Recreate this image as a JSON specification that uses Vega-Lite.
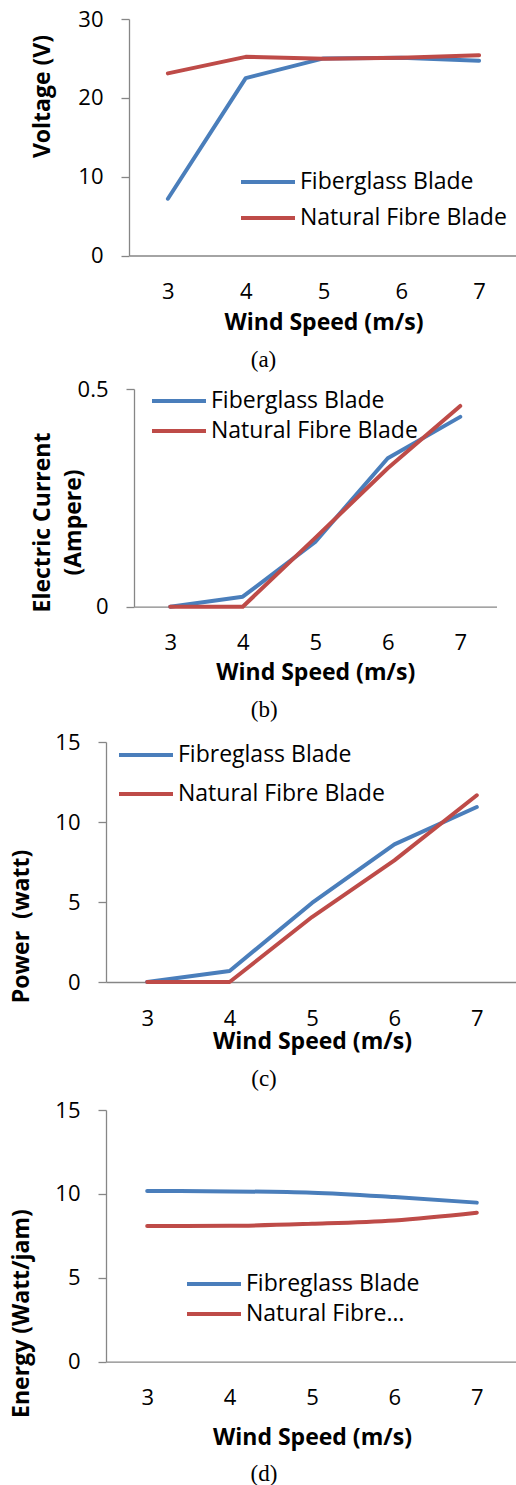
{
  "$schema": "https://vega.github.io/schema/vega-lite/v6.json",
  "padding": {"left": 10, "top": 8, "right": 0, "bottom": 0},
  "spacing": 0,
  "resolve": {"scale": {"color": "independent"}, "legend": {"color": "independent"}},
  "config": {
    "view": {"stroke": null, "fill": "transparent"},
    "font": "Open Sans",
    "axis": {"domainColor": "#868686", "tickColor": "#868686", "grid": false, "labelFont": "Open Sans", "labelFontSize": 22, "labelColor": "#000000", "titleFont": "Open Sans", "titleFontSize": 23, "titleFontWeight": "bold", "titleColor": "#000000", "domainWidth": 1.3, "tickWidth": 1.3},
    "axisX": {"ticks": false, "tickSize": 0, "labelAngle": 0, "labelBaseline": "alphabetic", "labelPadding": 43, "titleBaseline": "alphabetic"},
    "axisY": {"tickSize": 8, "labelPadding": 18, "titleAngle": -90, "titleBaseline": "alphabetic", "titleAlign": "center"},
    "legend": {"orient": "none", "padding": 0, "labelFont": "Open Sans", "labelFontSize": 23, "labelColor": "#000000", "symbolType": "M-2.7,0H2.7", "symbolSize": 400, "symbolStrokeWidth": 4, "labelOffset": 20, "labelLimit": 400},
    "title": {"font": "Liberation Serif", "fontSize": 23, "fontWeight": "normal", "orient": "bottom", "anchor": "middle", "frame": "group", "color": "#000000", "baseline": "alphabetic", "offset": 14},
    "line": {"strokeWidth": 4, "strokeCap": "round", "strokeJoin": "round"}
  },
  "vconcat": [
    {
      "spacing": 0,
      "bounds": "flush",
      "resolve": {"scale": {"color": "independent"}, "legend": {"color": "independent"}},
      "hconcat": [
        {"width": 24, "height": 358.5, "data": {"values": []}, "mark": "point"},
        {
          "width": 389, "height": 236.5,
          "title": {"text": "(a)", "dx": -60, "fontSize": 23},
          "data": {"values": [
            {"speed": 3, "blade": "Fiberglass Blade", "value": 7.2},
            {"speed": 4, "blade": "Fiberglass Blade", "value": 22.5},
            {"speed": 5, "blade": "Fiberglass Blade", "value": 25.0},
            {"speed": 6, "blade": "Fiberglass Blade", "value": 25.1},
            {"speed": 7, "blade": "Fiberglass Blade", "value": 24.7},
            {"speed": 3, "blade": "Natural Fibre Blade", "value": 23.1},
            {"speed": 4, "blade": "Natural Fibre Blade", "value": 25.2},
            {"speed": 5, "blade": "Natural Fibre Blade", "value": 24.95},
            {"speed": 6, "blade": "Natural Fibre Blade", "value": 25.1},
            {"speed": 7, "blade": "Natural Fibre Blade", "value": 25.4}
          ]},
          "mark": {"type": "line"},
          "encoding": {
            "x": {"field": "speed", "type": "ordinal", "axis": {"title": "Wind Speed (m/s)", "titleY": 74}},
            "y": {"field": "value", "type": "quantitative", "scale": {"domain": [0, 30], "nice": false}, "axis": {"title": "Voltage (V)", "values": [0, 10, 20, 30], "titleX": -80, "titleY": 77}},
            "color": {"field": "blade", "type": "nominal", "scale": {"domain": ["Fiberglass Blade", "Natural Fibre Blade"], "range": ["#4A7EBB", "#BE4B48"]},
              "legend": {"title": null, "legendX": 127, "legendY": 151, "rowPadding": 12, "encode": {"symbols": {"update": {"strokeCap": {"value": "round"}}}}}}
          }
        }
      ]
    },
    {
      "spacing": 0,
      "bounds": "flush",
      "resolve": {"scale": {"color": "independent"}, "legend": {"color": "independent"}},
      "hconcat": [
        {"width": 29, "height": 341.7, "data": {"values": []}, "mark": "point"},
        {
          "width": 362.5, "height": 217.7,
          "title": {"text": "(b)", "dx": -51, "fontSize": 23},
          "data": {"values": [
            {"speed": 3, "blade": "Fiberglass Blade", "value": 0},
            {"speed": 4, "blade": "Fiberglass Blade", "value": 0.023},
            {"speed": 5, "blade": "Fiberglass Blade", "value": 0.149},
            {"speed": 6, "blade": "Fiberglass Blade", "value": 0.341},
            {"speed": 7, "blade": "Fiberglass Blade", "value": 0.436},
            {"speed": 3, "blade": "Natural Fibre Blade", "value": 0},
            {"speed": 4, "blade": "Natural Fibre Blade", "value": 0},
            {"speed": 5, "blade": "Natural Fibre Blade", "value": 0.158},
            {"speed": 6, "blade": "Natural Fibre Blade", "value": 0.318},
            {"speed": 7, "blade": "Natural Fibre Blade", "value": 0.461}
          ]},
          "mark": {"type": "line"},
          "encoding": {
            "x": {"field": "speed", "type": "ordinal", "axis": {"title": "Wind Speed (m/s)", "titleY": 73}},
            "y": {"field": "value", "type": "quantitative", "scale": {"domain": [0, 0.5], "nice": false}, "axis": {"title": ["Electric Current", "(Ampere)"], "titleLineHeight": 31, "values": [0, 0.5], "format": "~g", "titleX": -85, "titleY": 133}},
            "color": {"field": "blade", "type": "nominal", "scale": {"domain": ["Fiberglass Blade", "Natural Fibre Blade"], "range": ["#4A7EBB", "#BE4B48"]},
              "legend": {"title": null, "legendX": 33, "legendY": 0, "rowPadding": 6, "encode": {"symbols": {"update": {"strokeCap": {"value": "round"}}}}}}
          }
        }
      ]
    },
    {
      "spacing": 0,
      "bounds": "flush",
      "resolve": {"scale": {"color": "independent"}, "legend": {"color": "independent"}},
      "hconcat": [
        {"width": 1, "height": 356.3, "data": {"values": []}, "mark": "point"},
        {
          "width": 412, "height": 240,
          "title": {"text": "(c)", "dx": -48, "fontSize": 23},
          "data": {"values": [
            {"speed": 3, "blade": "Fibreglass Blade", "value": 0},
            {"speed": 4, "blade": "Fibreglass Blade", "value": 0.69},
            {"speed": 5, "blade": "Fibreglass Blade", "value": 4.94},
            {"speed": 6, "blade": "Fibreglass Blade", "value": 8.6},
            {"speed": 7, "blade": "Fibreglass Blade", "value": 10.94},
            {"speed": 3, "blade": "Natural Fibre Blade", "value": 0},
            {"speed": 4, "blade": "Natural Fibre Blade", "value": 0},
            {"speed": 5, "blade": "Natural Fibre Blade", "value": 4.06},
            {"speed": 6, "blade": "Natural Fibre Blade", "value": 7.6},
            {"speed": 7, "blade": "Natural Fibre Blade", "value": 11.67}
          ]},
          "mark": {"type": "line"},
          "encoding": {
            "x": {"field": "speed", "type": "ordinal", "axis": {"title": "Wind Speed (m/s)", "titleY": 66.7}},
            "y": {"field": "value", "type": "quantitative", "scale": {"domain": [0, 15], "nice": false}, "axis": {"title": "Power\u00a0 (watt)", "values": [0, 5, 10, 15], "titleX": -78, "titleY": 184}},
            "color": {"field": "blade", "type": "nominal", "scale": {"domain": ["Fibreglass Blade", "Natural Fibre Blade"], "range": ["#4A7EBB", "#BE4B48"]},
              "legend": {"title": null, "legendX": 28, "legendY": 1, "rowPadding": 15, "encode": {"symbols": {"update": {"strokeCap": {"value": "round"}}}}}}
          }
        }
      ]
    },
    {
      "spacing": 0,
      "bounds": "flush",
      "resolve": {"scale": {"color": "independent"}, "legend": {"color": "independent"}},
      "hconcat": [
        {"width": 1, "height": 10, "data": {"values": []}, "mark": "point"},
        {
          "width": 412, "height": 251.7,
          "title": {"text": "(d)", "dx": -48, "fontSize": 23},
          "data": {"values": [
            {"speed": 3, "blade": "Fibreglass Blade", "value": 10.17},
            {"speed": 4, "blade": "Fibreglass Blade", "value": 10.15},
            {"speed": 5, "blade": "Fibreglass Blade", "value": 10.07},
            {"speed": 6, "blade": "Fibreglass Blade", "value": 9.81},
            {"speed": 7, "blade": "Fibreglass Blade", "value": 9.48},
            {"speed": 3, "blade": "Natural Fibre Blade", "value": 8.09},
            {"speed": 4, "blade": "Natural Fibre Blade", "value": 8.1},
            {"speed": 5, "blade": "Natural Fibre Blade", "value": 8.22},
            {"speed": 6, "blade": "Natural Fibre Blade", "value": 8.42},
            {"speed": 7, "blade": "Natural Fibre Blade", "value": 8.88}
          ]},
          "mark": {"type": "line", "interpolate": "monotone"},
          "encoding": {
            "x": {"field": "speed", "type": "ordinal", "axis": {"title": "Wind Speed (m/s)", "titleY": 82.7}},
            "y": {"field": "value", "type": "quantitative", "scale": {"domain": [0, 15], "nice": false}, "axis": {"title": "Energy (Watt/jam)", "values": [0, 5, 10, 15], "titleX": -78, "titleY": 203}},
            "color": {"field": "blade", "type": "nominal", "scale": {"domain": ["Fibreglass Blade", "Natural Fibre Blade"], "range": ["#4A7EBB", "#BE4B48"]},
              "legend": {"title": null, "legendX": 96, "legendY": 162, "rowPadding": 6, "labelExpr": "datum.label == 'Natural Fibre Blade' ? 'Natural Fibre…' : datum.label", "encode": {"symbols": {"update": {"strokeCap": {"value": "round"}}}}}}
          }
        }
      ]
    }
  ]
}
